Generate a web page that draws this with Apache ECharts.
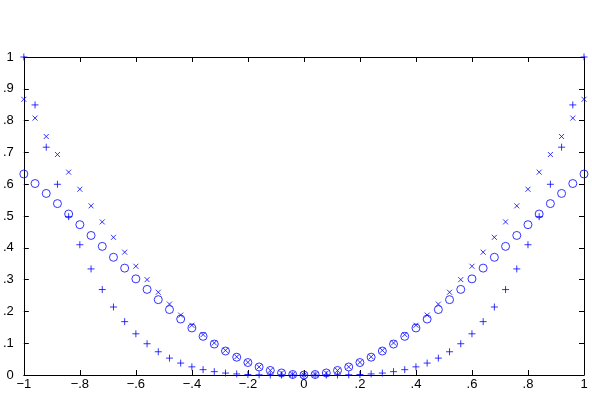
<!DOCTYPE html>
<html>
<head>
<meta charset="utf-8"/>
<title>chart</title>
<script src="https://cdn.jsdelivr.net/npm/echarts@6/dist/echarts.min.js"></script>
<style>
	body{margin:0;padding:0;background:#fff;}
	#main{width:592px;height:393px;}
</style>
</head>
<body>
<div id="main"></div>
<script type="text/javascript">
	// x positions, step .04 from -1 to 1
	var xs = [];
	for (var k = -25; k <= 25; k++) xs.push(k * 0.04);

	// values for x = 0, .04, ... 1 (curves are symmetric)
	var circleHalf = [0, .0016, .0064, .0143, .0253, .0392, .0560, .0754, .0973, .1216, .1479, .1760, .2058, .2369, .2692, .3023, .3361, .3702, .4045, .4388, .4727, .5062, .5390, .5710, .6021, .6321];
	var crossHalf = [0, .0016, .0064, .0144, .0255, .0398, .0571, .0775, .1009, .1272, .1564, .1883, .2229, .2602, .2999, .3420, .3863, .4329, .4814, .5319, .5841, .6379, .6933, .7500, .8079, .8669];
	var plusHalf = [0, 0, .00004, .0002, .0007, .0016, .0033, .0061, .0105, .0168, .0256, .0375, .0531, .0731, .0983, .1296, .1678, .2138, .2687, .3336, .4096, .4979, .5997, .7164, .8493, 1];

	function mirror(half){
		var out = [];
		for (var i = half.length - 1; i > 0; i--) out.push(half[i]);
		return out.concat(half);
	}
	function pairs(vals){
		var d = [];
		for (var i = 0; i < xs.length; i++) d.push([xs[i], vals[i]]);
		return d;
	}

	// matlab style labels: no leading zero, long minus
	function fmt(v){
		if (Math.abs(v) < 1e-9) return '0';
		var s = Math.abs(v).toFixed(1);
		if (s === '1.0') s = '1'; else s = s.replace(/^0/, '');
		return (v < 0 ? '\u2212' : '') + s;
	}

	var blue = '#0000ff';
	var axisBase = {
		type: 'value',
		axisLine: {show: true, onZero: false, lineStyle: {color: '#000', width: 1}},
		axisTick: {show: true, inside: true, length: 5, lineStyle: {color: '#000'}},
		splitLine: {show: false}
	};
	function ax(extra){
		var o = JSON.parse(JSON.stringify(axisBase));
		for (var key in extra) o[key] = extra[key];
		return o;
	}

	var chart = echarts.init(document.getElementById('main'));
	chart.setOption({
		animation: false,
		grid: {left: 23, right: 8, top: 57, bottom: 18},
		xAxis: [
			ax({position: 'bottom', min: -1, max: 1, interval: 0.2,
				axisLabel: {formatter: fmt, color: '#000', fontSize: 13, fontFamily: 'Liberation Sans, Arial', margin: 3}}),
			ax({position: 'top', min: -1, max: 1, interval: 0.2, axisLabel: {show: false}})
		],
		yAxis: [
			ax({position: 'left', min: 0, max: 1, interval: 0.1,
				axisLabel: {formatter: fmt, color: '#000', fontSize: 13, fontFamily: 'Liberation Sans, Arial', margin: 10}}),
			ax({position: 'right', min: 0, max: 1, interval: 0.1, axisLabel: {show: false}})
		],
		series: [
			{
				type: 'scatter', data: pairs(mirror(circleHalf)),
				symbol: 'circle', symbolSize: 8,
				itemStyle: {color: 'none', borderColor: blue, borderWidth: 1}
			},
			{
				type: 'scatter', data: pairs(mirror(crossHalf)),
				symbol: 'path://M0,0L10,10M10,0L0,10', symbolSize: 5,
				itemStyle: {color: 'none', borderColor: blue, borderWidth: 1}
			},
			{
				type: 'scatter', data: pairs(mirror(plusHalf)),
				symbol: 'path://M5,0L5,10M0,5L10,5', symbolSize: 7,
				itemStyle: {color: 'none', borderColor: blue, borderWidth: 1}
			}
		]
	});
</script>
</body>
</html>
